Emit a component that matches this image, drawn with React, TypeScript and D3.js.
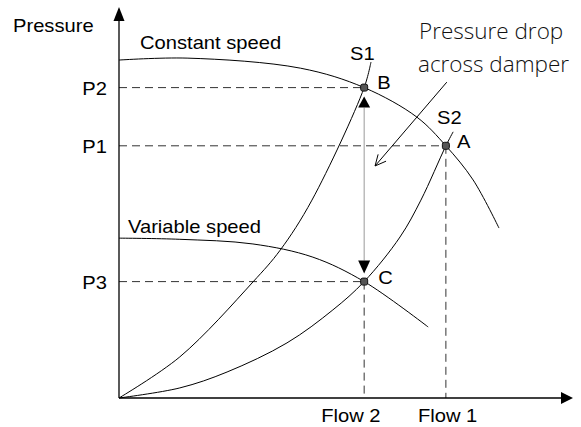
import React from "react";
import * as d3 from "d3";

// ---- data (abstract units: flow 0..100, pressure 0..100) ----
const constantSpeed: [number, number][] = [
  [0, 87.1], [15, 87.6], [40, 85], [54, 80], [65.6, 72.4], [72, 65], [78, 56.2], [83.7, 43.8],
];
const variableSpeed: [number, number][] = [
  [0, 41.2], [13.4, 40.9], [29.5, 39.7], [42.7, 36.3], [54, 30], [68.1, 18.3],
];
const systemS1: [number, number][] = [
  [0, 0], [13.4, 10.6], [29.5, 29.9], [35.5, 38.1], [42.5, 51], [54, 80], [55.5, 86.6],
];
const systemS2: [number, number][] = [
  [0, 0], [13.4, 2.6], [23.8, 6.7], [37, 14.2], [47.1, 22.7], [54, 30], [61.9, 41.5], [66.5, 51], [72, 65], [73.6, 68.6],
];
const flowLabels = ["Flow 2", "Flow 1"];
const flowValues = [54, 72];
const pressureLabels = ["P2", "P1", "P3"];
const pressureValues = [80, 65, 30];
const points = [
  { name: "B", x: 54, y: 80 },
  { name: "A", x: 72, y: 65 },
  { name: "C", x: 54, y: 30 },
];
const dropArrow: [number, number][] = [[72.2, 81.4], [56.4, 59.8]];

const W = 581, H = 427;
const x = d3.scaleLinear().domain([0, 100]).range([119, 573]);
const y = d3.scaleLinear().domain([0, 100]).range([398, 10]);

const line = d3.line<[number, number]>()
  .x(d => x(d[0]))
  .y(d => y(d[1]))
  .curve(d3.curveCatmullRom.alpha(0.5));

const SX = 1.12;
const FONT = "'Liberation Sans', Arial, sans-serif";

function T({ px, py, text, anchor = "start", size = 18 }: { px: number; py: number; text: string; anchor?: string; size?: number }) {
  return (
    <text
      transform={`translate(${px},${py}) scale(${SX},1)`}
      textAnchor={anchor as any}
      fontFamily={FONT}
      fontSize={size}
      fill="#000"
    >
      {text}
    </text>
  );
}

export default function App() {
  const x0 = x(0), y0 = y(0);
  const B = points[0], A = points[1], C = points[2];
  const bx = x(B.x), by = y(B.y), cy = y(C.y);

  // pressure drop arrow
  const [s, e] = dropArrow;
  const sx = x(s[0]), sy = y(s[1]), ex = x(e[0]), ey = y(e[1]);
  const ang = Math.atan2(ey - sy, ex - sx);
  const hl = 12, ha = 0.45;
  const b1 = [ex - hl * Math.cos(ang - ha), ey - hl * Math.sin(ang - ha)];
  const b2 = [ex - hl * Math.cos(ang + ha), ey - hl * Math.sin(ang + ha)];

  const dashColor = "#333";
  const dash = "8,5";
  const flowOffsets = [-43, -28];

  return (
    <svg width={W} height={H} style={{ position: "absolute", left: 0, top: 0, background: "#fff" }}>
      {/* dashed guide lines */}
      {pressureValues.map((p, i) => {
        const pt = points[i];
        return (
          <line key={"h" + i} x1={x0} x2={x(pt.x)} y1={y(p)} y2={y(p)} stroke={dashColor} strokeWidth={1} strokeDasharray={dash} />
        );
      })}
      {flowValues.map((f, i) => {
        const top = i === 0 ? y(C.y) : y(A.y);
        return (
          <line key={"v" + i} x1={x(f)} x2={x(f)} y1={top} y2={y0} stroke={dashColor} strokeWidth={1} strokeDasharray={dash} />
        );
      })}

      {/* curves */}
      {[constantSpeed, variableSpeed, systemS1, systemS2].map((d, i) => (
        <path key={"c" + i} d={line(d) || ""} fill="none" stroke="#000" strokeWidth={1} />
      ))}

      {/* B -> C gray line with arrowheads */}
      <line x1={bx} x2={bx} y1={by + 20} y2={cy - 21} stroke="#999" strokeWidth={1} />
      <path d={`M${bx},${by + 9} L${bx - 6},${by + 20} L${bx + 6},${by + 20} Z`} fill="#000" />
      <path d={`M${bx},${cy - 8} L${bx - 6},${cy - 21} L${bx + 6},${cy - 21} Z`} fill="#000" />

      {/* pressure drop arrow */}
      <line x1={sx} y1={sy} x2={ex} y2={ey} stroke="#000" strokeWidth={1} />
      <polyline points={`${b1[0]},${b1[1]} ${ex},${ey} ${b2[0]},${b2[1]}`} fill="none" stroke="#000" strokeWidth={1} />

      {/* axes */}
      <line x1={x0} x2={x0} y1={y0} y2={20} stroke="#000" strokeWidth={1.3} />
      <path d={`M${x0},7 L${x0 - 5.5},21 L${x0 + 5.5},21 Z`} fill="#000" />
      <line x1={x0} x2={561} y1={y0} y2={y0} stroke="#000" strokeWidth={1.3} />
      <path d={`M573,${y0} L561,${y0 - 6} L561,${y0 + 6} Z`} fill="#000" />

      {/* markers */}
      {points.map(p => (
        <rect key={p.name} x={x(p.x) - 3.5} y={y(p.y) - 3.5} width={7} height={7} rx={2} fill="#555" stroke="#111" strokeWidth={1} />
      ))}

      {/* labels */}
      <T px={13} py={32} text="Pressure" />
      <T px={140} py={49} text="Constant speed" />
      <T px={128} py={233} text="Variable speed" />
      {pressureValues.map((p, i) => (
        <T key={"pl" + i} px={107} py={y(p) + 7} text={pressureLabels[i]} anchor="end" />
      ))}
      {flowValues.map((f, i) => (
        <T key={"fl" + i} px={x(f) + flowOffsets[i]} py={422} text={flowLabels[i]} />
      ))}
      <T px={bx + 13} py={by + 1} text="B" />
      <T px={x(A.x) + 11} py={y(A.y) + 2} text="A" />
      <T px={bx + 14} py={cy + 2} text="C" />
      <T px={350} py={60} text="S1" />
      <T px={437} py={124} text="S2" />

      <text x={419} y={39} fontFamily="'Open Sans', sans-serif" fontWeight={300} fontSize={22.5} fill="#111">Pressure drop</text>
      <text x={418} y={72} fontFamily="'Open Sans', sans-serif" fontWeight={300} fontSize={22.5} fill="#111">across damper</text>
    </svg>
  );
}
